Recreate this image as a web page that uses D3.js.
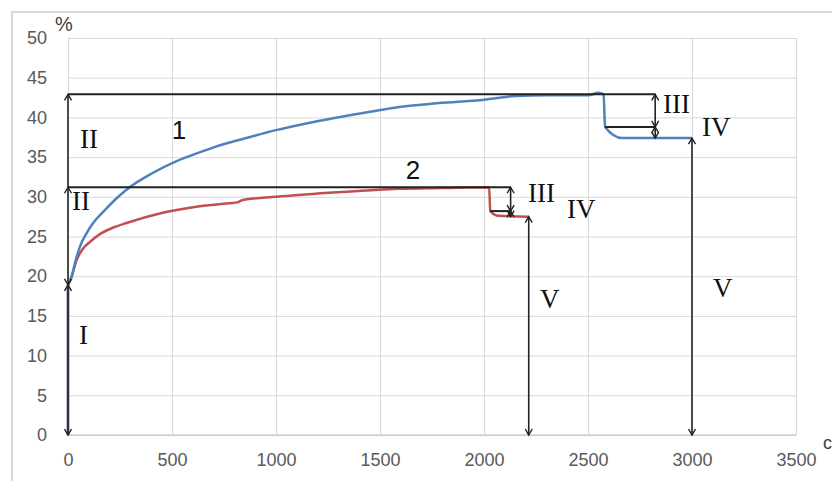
<!DOCTYPE html>
<html>
<head>
<meta charset="utf-8">
<script src="https://cdn.jsdelivr.net/npm/d3@7/dist/d3.min.js"></script>
<style>
  html, body { margin: 0; padding: 0; background: #fff; }
  svg { display: block; }
</style>
</head>
<body>
<svg id="chart" width="832" height="481"></svg>
<script>
// Time axis (s) and percentage axis ticks
const xTicks = [0, 500, 1000, 1500, 2000, 2500, 3000, 3500];
const yTicks = [0, 5, 10, 15, 20, 25, 30, 35, 40, 45, 50];

// Curve 1 (blue)
const t1 = [0, 0, 17, 33, 57, 89, 121, 169, 225, 281, 407, 522, 633, 697, 857, 1000, 1175, 1340, 1496, 1592, 1784, 1990, 2152, 2300, 2502, 2550, 2575, 2582, 2665, 2800, 3000];
const v1 = [0, 18.9, 19.9, 21.6, 23.7, 25.4, 26.7, 28.1, 29.6, 30.9, 33.0, 34.5, 35.6, 36.2, 37.4, 38.4, 39.4, 40.2, 40.9, 41.3, 41.8, 42.2, 42.7, 42.8, 42.8, 43.1, 42.9, 38.8, 37.4, 37.4, 37.4];

// Curve 2 (red)
const t2 = [0, 0, 17, 41, 73, 105, 153, 216, 281, 441, 537, 633, 777, 815, 840, 1002, 1256, 1496, 1592, 1800, 2025, 2030, 2071, 2215];
const v2 = [0, 18.9, 19.9, 22.0, 23.5, 24.3, 25.3, 26.1, 26.7, 27.9, 28.4, 28.8, 29.2, 29.3, 29.6, 30.0, 30.5, 30.9, 31.0, 31.1, 31.2, 28.2, 27.6, 27.5];

// Stage levels marked by the arrows
const startLevel = 18.9;
const peak = [42.9, 31.2];
const midLevel = [38.8, 28.2];
const finalLevel = [37.4, 27.5];
const stepStart = [2582, 2030];
const stepArrowX = [2823, 2128];
const finalArrowX = [3000, 2215];

const svg = d3.select("#chart");
const x = d3.scaleLinear().domain([0, 3500]).range([68, 796]);
const y = d3.scaleLinear().domain([0, 50]).range([435, 38]);

// outer frame
svg.append("path")
  .attr("d", "M12,481 L12,12 L832,12")
  .attr("fill", "none").attr("stroke", "#d9d9d9").attr("stroke-width", 2);

// grid + tick labels
const gy = svg.append("g").attr("transform", `translate(${x(0)},0)`)
  .call(d3.axisLeft(y).tickValues(yTicks).tickFormat(d3.format("d"))
    .tickSize(-(x(3500) - x(0))).tickPadding(21));
const gx = svg.append("g").attr("transform", `translate(0,${y(0)})`)
  .call(d3.axisBottom(x).tickValues(xTicks).tickFormat(d3.format("d"))
    .tickSize(-(y(0) - y(50))).tickPadding(18));
[gx, gy].forEach(g => {
  g.select(".domain").remove();
  g.selectAll(".tick line").attr("stroke", "#d9d9d9").attr("stroke-width", 1);
  g.selectAll(".tick text")
    .attr("fill", "#595959")
    .style("font-family", "'Liberation Sans', Arial, sans-serif")
    .style("font-size", "18px");
});
svg.append("line")
  .attr("x1", x(0)).attr("x2", x(3500)).attr("y1", y(0)).attr("y2", y(0))
  .attr("stroke", "#bfbfbf").attr("stroke-width", 1);

// axis unit labels
svg.append("text").attr("x", 55).attr("y", 31).text("%")
  .attr("fill", "#404040")
  .style("font-family", "'Liberation Sans', Arial, sans-serif").style("font-size", "20px");
svg.append("text").attr("x", 823).attr("y", 449).text("с")
  .attr("fill", "#404040")
  .style("font-family", "'Liberation Sans', Arial, sans-serif").style("font-size", "18px");

// curves: vertical rise at t = 0, then a smoothed trace
const riseLine = d3.line().x(d => x(d[0])).y(d => y(d[1]));
const smoothLine = d3.line().x(d => x(d[0])).y(d => y(d[1])).curve(d3.curveMonotoneX);
function drawCurve(ts, vs, color) {
  const pts = ts.map((t, i) => [t, vs[i]]);
  const g = svg.append("g").attr("fill", "none").attr("stroke", color)
    .attr("stroke-width", 2.5).attr("stroke-linejoin", "round");
  g.append("path").attr("d", riseLine(pts.slice(0, 2)));
  g.append("path").attr("d", smoothLine(pts.slice(1)));
}
drawCurve(t2, v2, "#c0504d");
drawCurve(t1, v1, "#4f81bd");

// annotation lines
const ann = svg.append("g").attr("fill", "none").attr("stroke", "#222");
function hline(ta, tb, v) {
  ann.append("line").attr("x1", x(ta)).attr("x2", x(tb))
    .attr("y1", y(v)).attr("y2", y(v)).attr("stroke-width", 2);
}
function vline(t, va, vb) {
  ann.append("line").attr("x1", x(t)).attr("x2", x(t))
    .attr("y1", y(va)).attr("y2", y(vb)).attr("stroke-width", 1.6);
}
function head(t, v, dir) {
  const px = x(t), py = y(v), s = dir === "up" ? 1 : -1;
  ann.append("path")
    .attr("d", `M${px - 3.5},${py + 6 * s} L${px},${py} L${px + 3.5},${py + 6 * s}`)
    .attr("stroke-width", 1.4);
}

peak.forEach((p, i) => {
  hline(0, stepArrowX[i], p);
  hline(stepStart[i], stepArrowX[i], midLevel[i]);
  // III and IV
  vline(stepArrowX[i], p, finalLevel[i]);
  head(stepArrowX[i], p, "up");
  head(stepArrowX[i], midLevel[i], "down");
  head(stepArrowX[i], midLevel[i], "up");
  head(stepArrowX[i], finalLevel[i], "down");
  // V
  vline(finalArrowX[i], 0, finalLevel[i]);
  head(finalArrowX[i], 0, "down");
  head(finalArrowX[i], finalLevel[i], "up");
});
// I and II along the vertical axis
vline(0, 0, peak[0]);
head(0, 0, "down");
head(0, startLevel, "up");
head(0, startLevel, "down");
head(0, peak[1], "up");
head(0, peak[0], "up");

// stage labels
const serif = "'Liberation Serif', 'Times New Roman', serif";
const stageLabels = [
  ["II", 80, 148], ["II", 72, 210], ["I", 79, 344],
  ["III", 528, 202], ["IV", 567, 218], ["V", 540, 308],
  ["III", 663, 113], ["IV", 702, 136], ["V", 713, 297]
];
svg.selectAll(".stage").data(stageLabels).join("text")
  .attr("class", "stage")
  .attr("x", d => d[1]).attr("y", d => d[2]).text(d => d[0])
  .attr("fill", "#111")
  .style("font-family", serif).style("font-size", "27px");

// curve numbers
const curveLabels = [["1", 179, 139], ["2", 413, 179]];
svg.selectAll(".num").data(curveLabels).join("text")
  .attr("class", "num")
  .attr("x", d => d[1]).attr("y", d => d[2]).text(d => d[0])
  .attr("text-anchor", "middle").attr("fill", "#111")
  .style("font-family", "'Liberation Sans', Arial, sans-serif").style("font-size", "26px");
</script>
</body>
</html>
